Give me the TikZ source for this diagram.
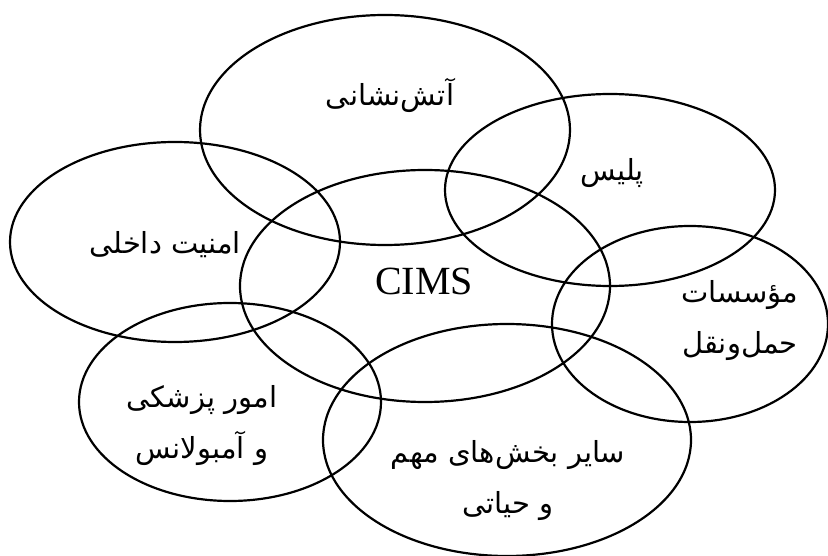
\documentclass[tikz,border=0pt]{standalone}
\usepackage{fontspec}
\setmainfont{Liberation Serif}
\newfontfamily\fa[Script=Arabic]{DejaVu Sans}
\TeXXeTstate=1
\usetikzlibrary{shapes.geometric}
\tikzset{
  ell/.style={draw, ellipse, line width=2.2pt, inner sep=0pt},
  lbl/.style={font=\fa\fontsize{29}{51}\selectfont, align=center, inner sep=0pt},
}
\begin{document}
\begin{tikzpicture}[x=1pt,y=-1pt]
\useasboundingbox (0,0) rectangle (828,556);
% ellipses
\node[ell, minimum width=370, minimum height=230] (fire) at (385,130) {};
\node[ell, minimum width=330, minimum height=192] (police) at (610,190) {};
\node[ell, minimum width=330, minimum height=200] (security) at (175,242) {};
\node[ell, minimum width=370, minimum height=232] (cims) at (425,286) {};
\node[ell, minimum width=276, minimum height=196] (transport) at (690,324) {};
\node[ell, minimum width=302, minimum height=198] (medical) at (230,402) {};
\node[ell, minimum width=368, minimum height=232] (other) at (507,440) {};
% labels
\node[lbl] (firet) at (390,95) {\beginR آتش‌نشانی\endR};
\node[lbl] (policet) at (612,173) {\beginR پلیس\endR};
\node[lbl] (securityt) at (165,245) {\beginR امنیت داخلی\endR};
\node[font=\fontsize{40}{44}\selectfont, inner sep=0pt] (cimst) at (424,281) {CIMS};
\node[lbl] (transportt) at (740,321) {\beginR مؤسسات\endR\\\beginR حمل‌ونقل\endR};
\node[lbl] (medicalt) at (202,426) {\beginR امور پزشکی\endR\\\beginR و آمبولانس\endR};
\node[lbl] (othert) at (508,481) {\beginR سایر بخش‌های مهم\endR\\\beginR و حیاتی\endR};
\end{tikzpicture}
\end{document}
